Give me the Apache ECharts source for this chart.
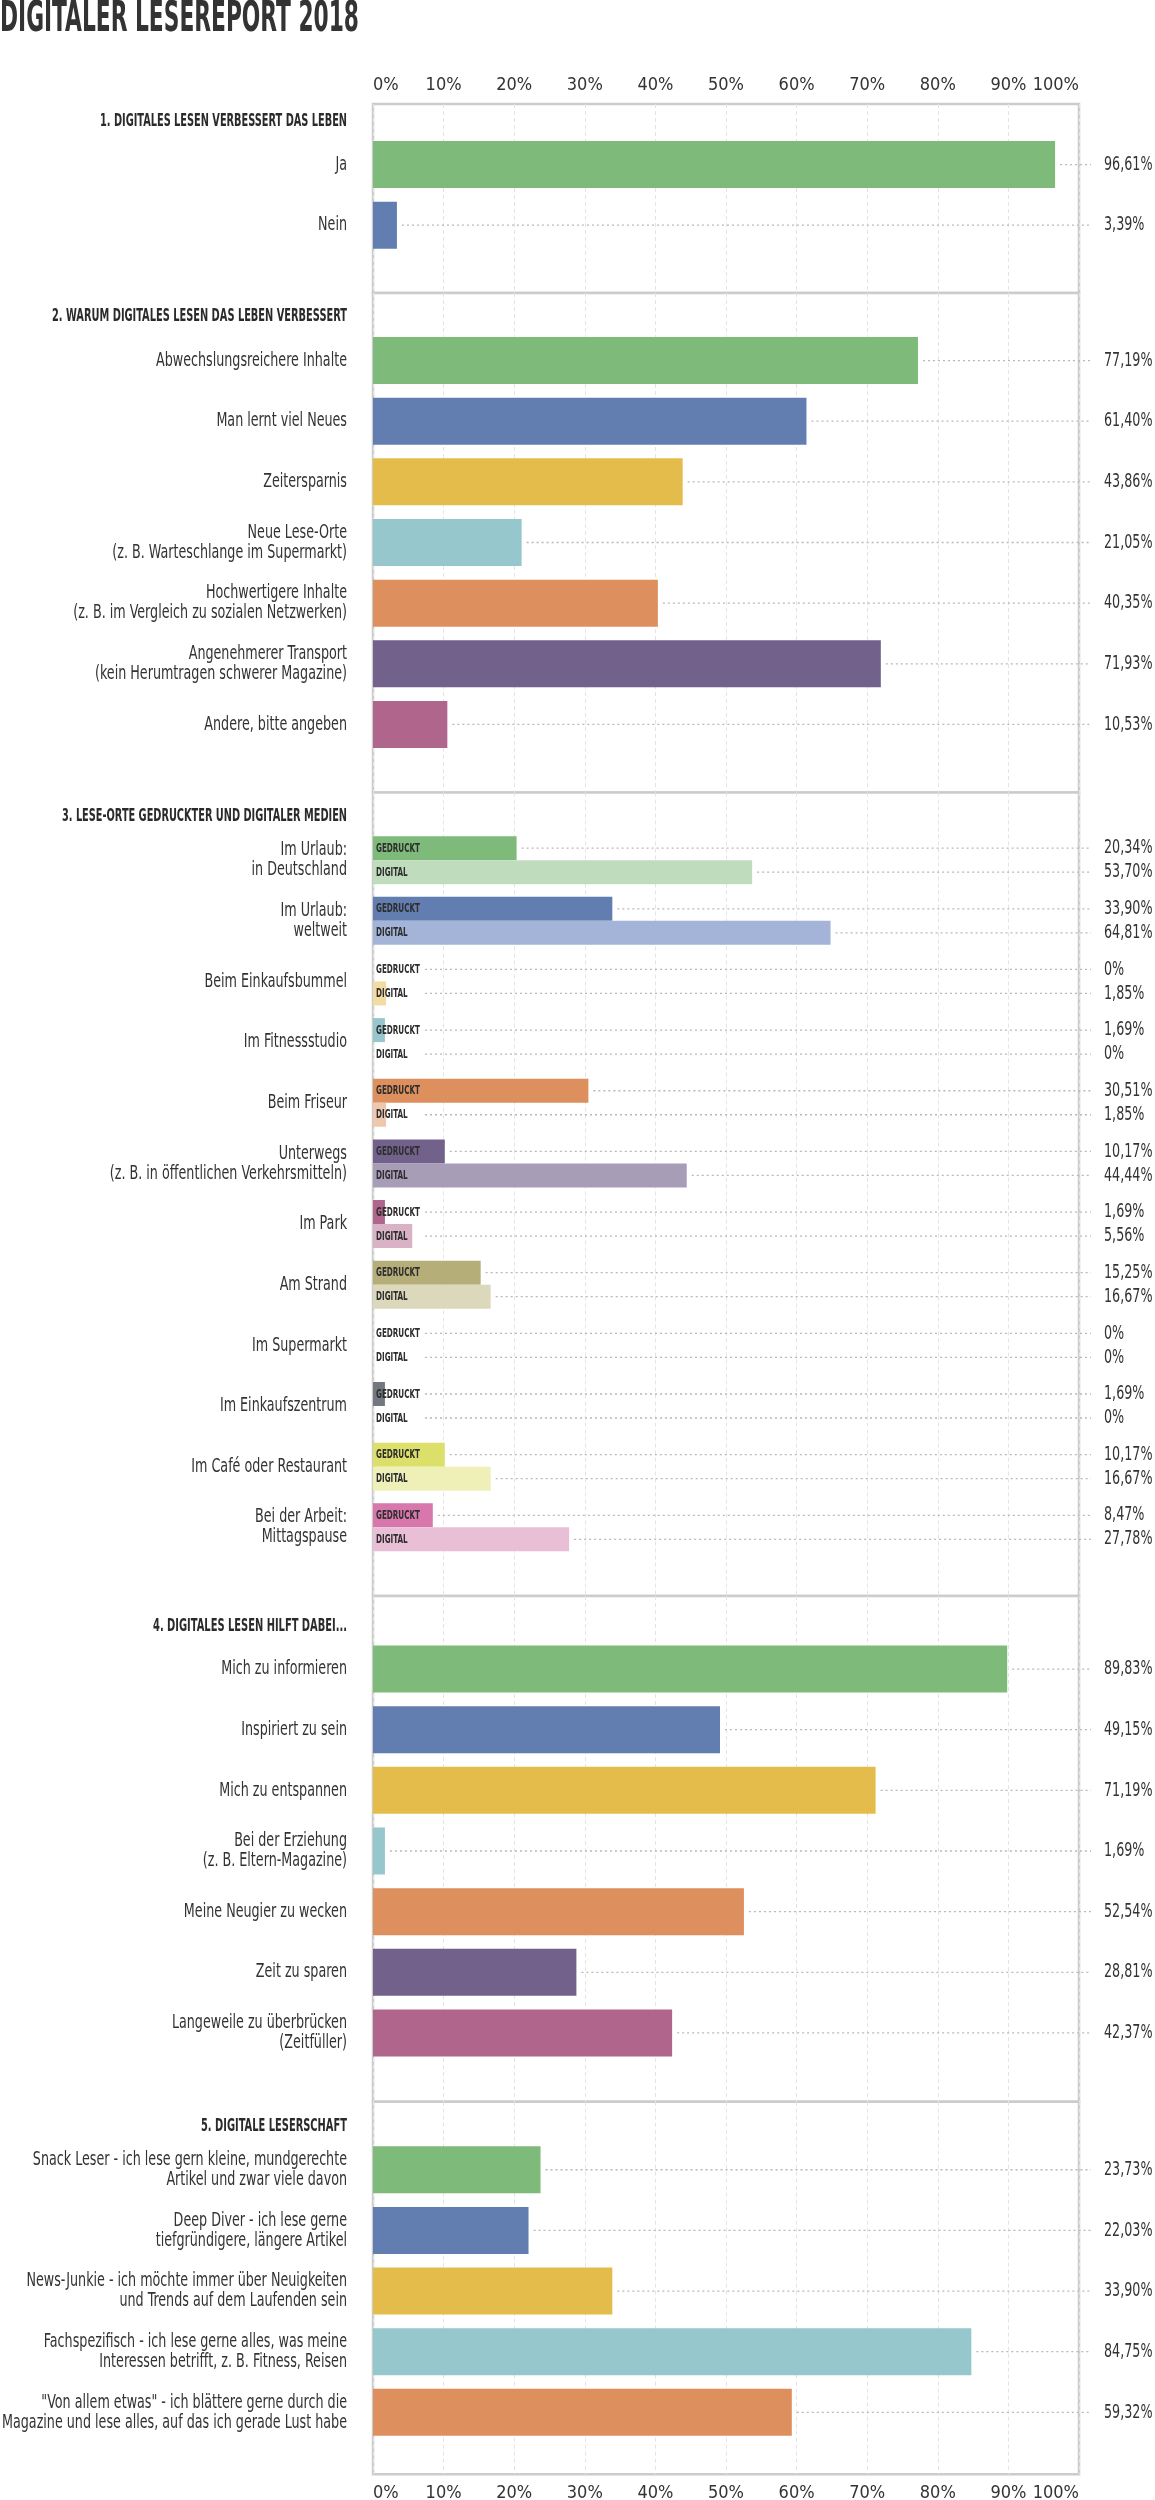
<!DOCTYPE html>
<html><head><meta charset="utf-8">
<script src="https://cdn.jsdelivr.net/npm/echarts@6/dist/echarts.min.js"></script>
<style>html,body{margin:0;padding:0;background:#fff}#c{width:1155px;height:2500px}</style>
</head><body><div id="c"></div>
<script>
// ---------- DATA ----------
const mainTitle = 'DIGITALER LESEREPORT 2018';
const tickLabels = ['0%','10%','20%','30%','40%','50%','60%','70%','80%','90%','100%'];
const sectionTitles = [
  '1. DIGITALES LESEN VERBESSERT DAS LEBEN',
  '2. WARUM DIGITALES LESEN DAS LEBEN VERBESSERT',
  '3. LESE-ORTE GEDRUCKTER UND DIGITALER MEDIEN',
  '4. DIGITALES LESEN HILFT DABEI...',
  '5. DIGITALE LESERSCHAFT'
];
const s1Categories = ['Ja','Nein'];
const s1Values = [96.61, 3.39];
const s2Categories = ['Abwechslungsreichere Inhalte','Man lernt viel Neues','Zeitersparnis',
  'Neue Lese-Orte\n(z. B. Warteschlange im Supermarkt)',
  'Hochwertigere Inhalte\n(z. B. im Vergleich zu sozialen Netzwerken)',
  'Angenehmerer Transport\n(kein Herumtragen schwerer Magazine)',
  'Andere, bitte angeben'];
const s2Values = [77.19, 61.40, 43.86, 21.05, 40.35, 71.93, 10.53];
const s3Categories = ['Im Urlaub:\nin Deutschland','Im Urlaub:\nweltweit','Beim Einkaufsbummel','Im Fitnessstudio',
  'Beim Friseur','Unterwegs\n(z. B. in öffentlichen Verkehrsmitteln)','Im Park','Am Strand','Im Supermarkt',
  'Im Einkaufszentrum','Im Café oder Restaurant','Bei der Arbeit:\nMittagspause'];
const s3Printed = [20.34, 33.90, 0, 1.69, 30.51, 10.17, 1.69, 15.25, 0, 1.69, 10.17, 8.47];
const s3Digital = [53.70, 64.81, 1.85, 0, 1.85, 44.44, 5.56, 16.67, 0, 0, 16.67, 27.78];
const s3SeriesNames = ['GEDRUCKT','DIGITAL'];
const s4Categories = ['Mich zu informieren','Inspiriert zu sein','Mich zu entspannen',
  'Bei der Erziehung\n(z. B. Eltern-Magazine)','Meine Neugier zu wecken','Zeit zu sparen',
  'Langeweile zu überbrücken\n(Zeitfüller)'];
const s4Values = [89.83, 49.15, 71.19, 1.69, 52.54, 28.81, 42.37];
const s5Categories = ['Snack Leser - ich lese gern kleine, mundgerechte\nArtikel und zwar viele davon',
  'Deep Diver - ich lese gerne\ntiefgründigere, längere Artikel',
  'News-Junkie - ich möchte immer über Neuigkeiten\nund Trends auf dem Laufenden sein',
  'Fachspezifisch - ich lese gerne alles, was meine\nInteressen betrifft, z. B. Fitness, Reisen',
  '"Von allem etwas" - ich blättere gerne durch die\nMagazine und lese alles, auf das ich gerade Lust habe'];
const s5Values = [23.73, 22.03, 33.90, 84.75, 59.32];

// ---------- STYLE / LAYOUT ----------
const palette = ['#7EBA7A','#627EB1','#E4BC4B','#96C7CD','#DE8F5E','#72618B','#B0668C'];
const palette3Dark = ['#7EBA7A','#627EB1','#E4BC4B','#96C7CD','#DE8F5E','#72618B','#B0668C','#B5AE78','#C45B5B','#737880','#DCE06A','#D877AC'];
const palette3Light = ['#BFDDBC','#A3B4D8','#F2DCA1','#CBE4E7','#EFC7AC','#A89DB7','#D9B2C6','#DCD8BC','#E4ADAD','#B9BCC0','#EEF0B8','#E9BFD8'];
const FONT = "'Liberation Sans Narrow','DejaVu Sans Condensed',sans-serif";
const TXT = '#333333';
const GRID_LEFT = 373, GRID_W = 706;
const frameEdges = [104, 293, 792.5, 1596, 2101.7, 2474.3];
const dataTops = [134.2, 330.2, 829.8, 1638.7, 2139.4];
const BAND = 60.65;
const sectionTitleY = [122, 317, 816.7, 1626.7, 2126.7];
const sectionTitleW = [247, 295, 285, 194, 146];
const BAR1 = 47, BAR3 = 24;

const ctx = document.createElement('canvas').getContext('2d');
function textW(t, font) { ctx.font = font; return ctx.measureText(t).width; }
function fmt(v) { return v === 0 ? '0%' : v.toFixed(2).replace('.', ',') + '%'; }

const LABEL_FONT = '20px ' + FONT;
const LABEL_SCALE = Math.min(196 / textW('Abwechslungsreichere Inhalte', LABEL_FONT),
  345 / textW('Magazine und lese alles, auf das ich gerade Lust habe', LABEL_FONT));
const TAG_FONT = 'bold 12px ' + FONT;
const TAG_SCALE = 44 / textW('GEDRUCKT', TAG_FONT);
const TAG_W = textW('GEDRUCKT', TAG_FONT) * TAG_SCALE;

const sections = [s1Categories, s2Categories, s3Categories, s4Categories, s5Categories];

const grid = [], xAxis = [], yAxis = [];
for (let i = 0; i < 5; i++) {
  grid.push({ left: GRID_LEFT, width: GRID_W, top: frameEdges[i], height: frameEdges[i + 1] - frameEdges[i],
    show: true, borderColor: '#cccccc', borderWidth: 2.5, backgroundColor: '#fff', outerBoundsMode: 'none' });
  xAxis.push({ type: 'value', gridIndex: i, min: 0, max: 100, interval: 10,
    position: i === 4 ? 'bottom' : 'top',
    axisLine: { show: false }, axisTick: { show: false },
    splitLine: { show: true, lineStyle: { color: '#e4e4e4', type: [4, 3], width: 1 } },
    axisLabel: { show: i === 0 || i === 4, margin: 10, fontFamily: FONT, fontSize: 18, color: TXT,
      formatter: v => tickLabels[Math.round(v / 10)], alignMinLabel: 'left', alignMaxLabel: 'right' } });
  yAxis.push({ type: 'value', gridIndex: i, min: 0, max: 1, show: false });
}
for (let i = 0; i < 5; i++) {
  const n = sections[i].length;
  grid.push({ left: GRID_LEFT, width: GRID_W, top: dataTops[i], height: BAND * n, show: false, outerBoundsMode: 'none' });
  xAxis.push({ type: 'value', gridIndex: 5 + i, min: 0, max: 100, show: false });
  yAxis.push({ type: 'category', gridIndex: 5 + i, inverse: true, data: sections[i],
    axisLine: { show: false }, axisTick: { show: false }, splitLine: { show: false },
    axisLabel: { show: false } });
}

const series = [];
function barSeries(gi, values, colors, width, extra) {
  return Object.assign({ type: 'bar', xAxisIndex: gi, yAxisIndex: gi, barWidth: width, silent: true,
    data: values.map((v, i) => ({ value: v, itemStyle: { color: colors[i % colors.length] } })) }, extra || {});
}
function txt(text, x, y, font, fill, align, scale, lineHeight) {
  return { type: 'text', x: x, y: y, scaleX: scale, scaleY: 1,
    style: { text: text, x: 0, y: 0, font: font, fill: fill, lineHeight: lineHeight,
      align: align, textAlign: align, verticalAlign: 'middle', textVerticalAlign: 'middle' } };
}
function leaderSeries(gi, values, offsetY, tag, cats) {
  return {
    type: 'custom', xAxisIndex: gi, yAxisIndex: gi, z: 5, silent: true, clip: false,
    data: values.map((v, i) => [v, i]),
    encode: { x: 0, y: 1 },
    renderItem(params, api) {
      const v = api.value(0), idx = api.value(1);
      const p = api.coord([v, idx]);
      const p0 = api.coord([0, idx]);
      const cs = params.coordSys;
      const right = cs.x + cs.width;
      const y = p[1] + offsetY;
      let start = p[0] + 5;
      const children = [];
      if (cats) children.push(txt(cats[idx], p0[0] - 26, p[1], LABEL_FONT, TXT, 'right', LABEL_SCALE, 20));
      if (tag) {
        children.push(txt(tag, p0[0] + 3, y + 0.5, TAG_FONT, '#2e2e2e', 'left', TAG_SCALE, 12));
        start = Math.max(start, p0[0] + 3 + TAG_W + 5);
      }
      children.push({ type: 'line', shape: { x1: start, y1: y, x2: right + 12, y2: y },
        style: { stroke: '#b8b8b8', lineWidth: 1.3, lineDash: [2, 3] } });
      children.push(txt(fmt(v), right + 25, y, LABEL_FONT, TXT, 'left', LABEL_SCALE, 20));
      return { type: 'group', children };
    }
  };
}

series.push(barSeries(5, s1Values, palette, BAR1));
series.push(leaderSeries(5, s1Values, 0, null, s1Categories));
series.push(barSeries(6, s2Values, palette, BAR1));
series.push(leaderSeries(6, s2Values, 0, null, s2Categories));
series.push(barSeries(7, s3Printed, palette3Dark, BAR3, { name: s3SeriesNames[0], barGap: '0%' }));
series.push(barSeries(7, s3Digital, palette3Light, BAR3, { name: s3SeriesNames[1], barGap: '0%' }));
series.push(leaderSeries(7, s3Printed, -BAR3 / 2, s3SeriesNames[0], s3Categories));
series.push(leaderSeries(7, s3Digital, BAR3 / 2, s3SeriesNames[1], null));
series.push(barSeries(8, s4Values, palette, BAR1));
series.push(leaderSeries(8, s4Values, 0, null, s4Categories));
series.push(barSeries(9, s5Values, palette, BAR1));
series.push(leaderSeries(9, s5Values, 0, null, s5Categories));

const graphic = [];
const MAIN_FONT = 'bold 42px ' + FONT;
const mainScale = 359 / textW(mainTitle, MAIN_FONT);
graphic.push({ type: 'text', x: 0, y: 20, scaleX: mainScale, z: 10,
  style: { text: mainTitle, font: MAIN_FONT, fill: '#333', align: 'left', textAlign: 'left',
    verticalAlign: 'middle', textVerticalAlign: 'middle' } });
const SEC_FONT = 'bold 17px ' + FONT;
sectionTitles.forEach((t, i) => {
  const sc = Math.min(1, sectionTitleW[i] / textW(t, SEC_FONT));
  graphic.push({ type: 'text', x: 347, y: sectionTitleY[i], scaleX: sc, z: 10,
    style: { text: t, font: SEC_FONT, fill: '#2a2a2a', align: 'right', textAlign: 'right',
      verticalAlign: 'middle', textVerticalAlign: 'middle' } });
});

const chart = echarts.init(document.getElementById('c'), null, { renderer: 'canvas' });
chart.setOption({ animation: false, backgroundColor: '#fff', grid, xAxis, yAxis, series, graphic });
</script></body></html>
